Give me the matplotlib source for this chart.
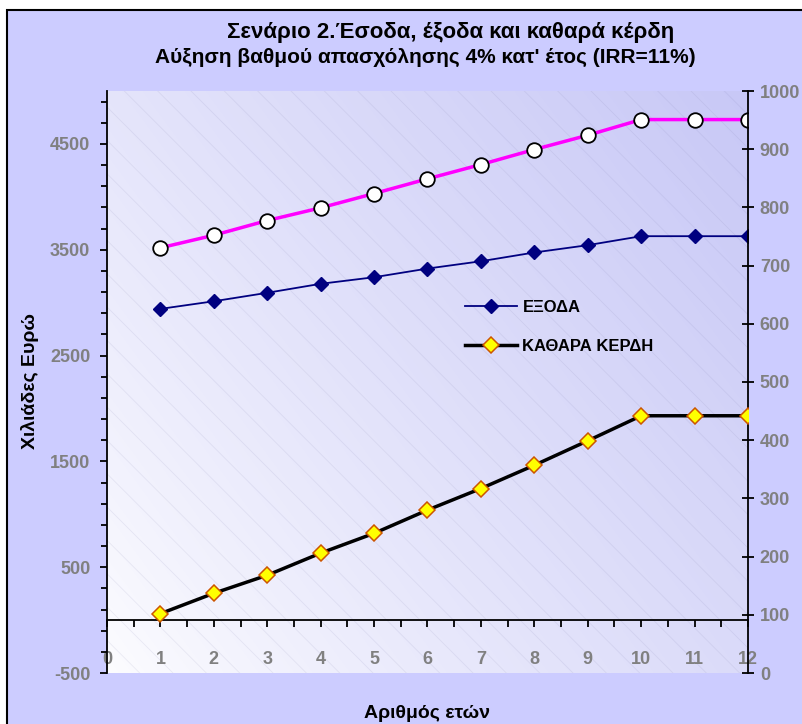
import numpy as np
import matplotlib
matplotlib.use("Agg")
import matplotlib.pyplot as plt
from matplotlib.patches import Rectangle
from matplotlib.ticker import FixedLocator, MultipleLocator
from matplotlib.colors import to_rgb

plt.rcParams['font.family'] = ['Liberation Sans', 'DejaVu Sans']
plt.rcParams['hatch.linewidth'] = 0.6
plt.rcParams['axes.unicode_minus'] = False

# data (thousands of euros)
years = [1, 2, 3, 4, 5, 6, 7, 8, 9, 10, 11, 12]
revenue = [3518, 3637, 3776, 3896, 4031, 4170, 4305, 4447, 4582, 4730, 4730, 4730]
expenses = [2941, 3013, 3093, 3178, 3240, 3322, 3391, 3474, 3543, 3628, 3628, 3628]
net_profit = [102, 137, 168, 206, 240, 280, 317, 357, 399, 442, 442, 442]

title1 = "Σενάριο 2.Έσοδα, έξοδα και καθαρά κέρδη"
title2 = "Αύξηση βαθμού απασχόλησης 4% κατ' έτος (IRR=11%)"
lbl_exp = "ΕΞΟΔΑ"
lbl_net = "ΚΑΘΑΡΑ ΚΕΡΔΗ"

W, H = 803, 724
bg = '#CCCCFF'
grey = '#808080'

fig = plt.figure(figsize=(W / 100, H / 100), dpi=100)
fig.patch.set_facecolor('white')
# chart area frame
fig.patches.append(Rectangle((7 / W, -0.05), 1.1, 1 - 10 / H + 0.05, transform=fig.transFigure,
                             facecolor=bg, edgecolor='black', lw=1.5, zorder=-10))

x0, x1, y0, y1 = 107, 748, 91, 673
ax = fig.add_axes([x0 / W, 1 - y1 / H, (x1 - x0) / W, (y1 - y0) / H])
ax.set_facecolor('none')

# diagonal gradient background + faint hatching
n = 256
gx, gy = np.meshgrid(np.linspace(0, 1, n), np.linspace(1, 0, n))
t = np.clip((gx * 0.6 + gy * 0.4) ** 0.85, 0, 1)[..., None]
c0 = np.array(to_rgb('#FDFDFF'))
c1 = np.array(to_rgb('#C8C8F6'))
ax.imshow(c0 * (1 - t) + c1 * t, extent=[0, 1, 0, 1], transform=ax.transAxes,
          aspect='auto', zorder=0, interpolation='bilinear')
ax.add_patch(Rectangle((0, 0), 1, 1, transform=ax.transAxes, facecolor='none',
                       edgecolor=(0.45, 0.45, 0.65, 0.12), hatch='\\', lw=0, zorder=0.5))

ax.plot(years, revenue, color='#FF00FF', lw=2.5, marker='o', ms=10.5,
        mfc='white', mec='black', mew=1.3, zorder=3)
l1, = ax.plot(years, expenses, color='#000080', lw=1.3, marker='D', ms=7.5,
              mfc='#000080', mec='#000080', zorder=3, label=lbl_exp)

ax.set_xlim(0, 12)
ax.set_ylim(-500, 5000)
ax.yaxis.set_major_locator(FixedLocator(np.arange(-500, 5000, 1000)))
ax.yaxis.set_minor_locator(FixedLocator(np.arange(-300, 5000, 200)))
ax.xaxis.set_major_locator(MultipleLocator(1))
ax.xaxis.set_minor_locator(MultipleLocator(0.5))
ax.spines['bottom'].set_position(('data', 0))
ax.spines['top'].set_visible(False)
ax.spines['right'].set_visible(False)
for s in ('left', 'bottom'):
    ax.spines[s].set_linewidth(1.3)
ax.tick_params(axis='y', which='major', direction='out', length=5, width=1.3,
               labelsize=13, labelcolor=grey, pad=7)
ax.tick_params(axis='y', which='minor', direction='out', length=4, width=1.3)
ax.tick_params(axis='x', which='both', direction='out', length=5, width=1.3,
               labelsize=13, labelcolor=grey, pad=17)
for lab in ax.get_xticklabels() + ax.get_yticklabels():
    lab.set_fontweight('bold')

ax2 = ax.twinx()
l2, = ax2.plot(years, net_profit, color='black', lw=2.5, marker='D', ms=8,
               mfc='#FFFF00', mec='#CC5500', mew=1.1, zorder=3, label=lbl_net)
ax2.set_ylim(0, 1000)
ax2.yaxis.set_major_locator(MultipleLocator(100))
for s in ('left', 'top', 'bottom'):
    ax2.spines[s].set_visible(False)
ax2.spines['right'].set_linewidth(1.3)
ax2.tick_params(axis='y', direction='inout', length=9, width=1.3,
                labelsize=13, labelcolor=grey, pad=4)
for lab in ax2.get_yticklabels():
    lab.set_fontweight('bold')

fig.legend(handles=[l1, l2], loc='upper left', bbox_to_anchor=(465 / W, 1 - 300 / H),
           frameon=False, borderpad=0, borderaxespad=0, handlelength=3.1,
           handletextpad=0.35, labelspacing=1.45, prop={'weight': 'bold', 'size': 12})

fig.text(451 / W, 1 - 38 / H, title1, ha='center', va='baseline',
         fontsize=16, fontweight='bold')
fig.text(425 / W, 1 - 63 / H, title2, ha='center', va='baseline',
         fontsize=15, fontweight='bold')
fig.text(30 / W, 1 - 381 / H, "Χιλιάδες Ευρώ", rotation=90, ha='center', va='center',
         fontsize=14, fontweight='bold')
fig.text(427 / W, 1 - 713 / H, "Αριθμός ετών", ha='center', va='center',
         fontsize=14, fontweight='bold')

fig.savefig('out.png', dpi=100)
